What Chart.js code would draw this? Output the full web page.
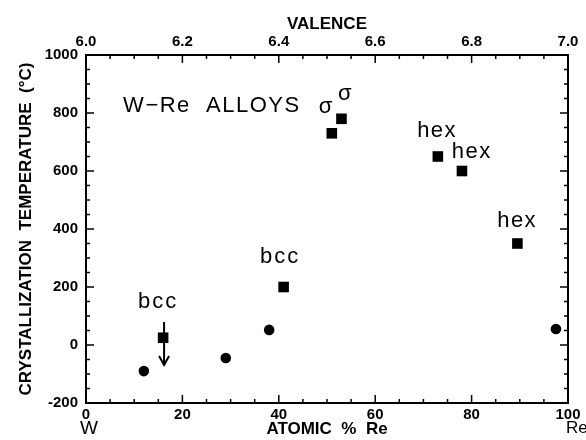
<!DOCTYPE html>
<html>
<head>
<meta charset="utf-8">
<script src="https://cdn.jsdelivr.net/npm/chart.js@4.4.0/dist/chart.umd.min.js"></script>
<style>
html, body { margin: 0; padding: 0; background: #fff; }
</style>
</head>
<body>
<canvas id="myChart" width="586" height="440"></canvas>
<script>
// amorphous W-Re alloys, crystallization temperature vs composition
const circleX = [12, 29, 38, 97.5];
const circleY = [-90, -45, 52, 55];
const squareX = [16, 41, 51, 53, 73, 78, 89.5];
const squareY = [25, 200, 730, 780, 650, 600, 350];

const atomicLabels = [0, 20, 40, 60, 80, 100];
const valenceLabels = [6.0, 6.2, 6.4, 6.6, 6.8, 7.0];
const tempLabels = [-200, 0, 200, 400, 600, 800, 1000];

// text notes placed in data coordinates
const notes = [
    {text: "W\u2212Re  ALLOYS", x: 7.7, y: 803, spacing: 1.5},
    {text: "\u03c3", x: 48.3, y: 800, spacing: 0},
    {text: "\u03c3", x: 52.3, y: 845, spacing: 0},
    {text: "hex", x: 68.7, y: 717, spacing: 1.5},
    {text: "hex", x: 75.9, y: 645, spacing: 1.5},
    {text: "hex", x: 85.3, y: 407, spacing: 1.5},
    {text: "bcc", x: 10.8, y: 128, spacing: 2},
    {text: "bcc", x: 36.1, y: 283, spacing: 2}
];
// upper limit arrow on the first bcc point
const arrowX = 16.2;
const arrowFrom = 79;
const arrowTo = -69;

const FONT = '"Liberation Sans", Arial, Helvetica, sans-serif';

function isIn(list, v){
    return list.some(function(t){ return Math.abs(t - v) < 1e-6; });
}

const frameTicks = {
    id: 'frameTicks',
    afterDraw: function(chart){
        const ctx = chart.ctx;
        const a = chart.chartArea;
        const sx = chart.scales.x, sx2 = chart.scales.x2, sy = chart.scales.y;
        ctx.save();
        ctx.strokeStyle = '#000';
        ctx.lineWidth = 2;
        ctx.strokeRect(a.left, a.top, a.right - a.left, a.bottom - a.top);

        ctx.lineWidth = 1.5;
        ctx.beginPath();
        sx.ticks.forEach(function(t){
            const px = sx.getPixelForValue(t.value);
            const len = isIn(atomicLabels, t.value) ? 8 : 4;
            ctx.moveTo(px, a.bottom); ctx.lineTo(px, a.bottom - len);
        });
        sx2.ticks.forEach(function(t){
            const px = sx2.getPixelForValue(t.value);
            const len = isIn(valenceLabels, t.value) ? 8 : 4;
            ctx.moveTo(px, a.top); ctx.lineTo(px, a.top + len);
        });
        sy.ticks.forEach(function(t){
            const py = sy.getPixelForValue(t.value);
            const len = isIn(tempLabels, t.value) ? 8 : 4;
            ctx.moveTo(a.left, py); ctx.lineTo(a.left + len, py);
            ctx.moveTo(a.right, py); ctx.lineTo(a.right - len, py);
        });
        ctx.stroke();

        // arrow
        const ax = sx.getPixelForValue(arrowX);
        const ay1 = sy.getPixelForValue(arrowFrom);
        const ay2 = sy.getPixelForValue(arrowTo);
        ctx.lineWidth = 2;
        ctx.beginPath();
        ctx.moveTo(ax, ay1); ctx.lineTo(ax, ay2);
        ctx.moveTo(ax - 5, ay2 - 9); ctx.lineTo(ax, ay2); ctx.lineTo(ax + 5, ay2 - 9);
        ctx.stroke();

        // notes
        ctx.fillStyle = '#000';
        ctx.font = '22px ' + FONT;
        ctx.textBaseline = 'alphabetic';
        ctx.textAlign = 'left';
        notes.forEach(function(n){
            ctx.letterSpacing = n.spacing + 'px';
            ctx.fillText(n.text, sx.getPixelForValue(n.x), sy.getPixelForValue(n.y));
        });
        ctx.letterSpacing = '0px';

        // element names under the ends of the composition axis
        ctx.font = '19px ' + FONT;
        ctx.textAlign = 'center';
        ctx.fillText('W', sx.getPixelForValue(0) + 3, 434);
        ctx.font = '17px ' + FONT;
        ctx.textAlign = 'left';
        ctx.fillText('Re', sx.getPixelForValue(100) - 2, 433);
        ctx.restore();
    }
};

const tickFont = {family: FONT, size: 15, weight: 'bold'};
const titleFont = {family: FONT, size: 17, weight: 'bold'};

const ctx = document.getElementById('myChart').getContext('2d');
const myChart = new Chart(ctx, {
    type: 'scatter',
    data: {
        datasets: [{
            label: 'amorphous',
            data: circleX.map(function(x, i){ return {x: x, y: circleY[i]}; }),
            pointStyle: 'circle',
            pointRadius: 5.3,
            backgroundColor: '#000',
            borderColor: '#000',
            borderWidth: 0
        }, {
            label: 'crystalline',
            data: squareX.map(function(x, i){ return {x: x, y: squareY[i]}; }),
            pointStyle: 'rect',
            pointRadius: 7.5,
            backgroundColor: '#000',
            borderColor: '#000',
            borderWidth: 0
        }]
    },
    options: {
        responsive: false,
        animation: false,
        events: [],
        layout: {padding: {left: 0, right: 18, top: 0, bottom: 0}},
        plugins: {legend: {display: false}, tooltip: {enabled: false}},
        scales: {
            x: {
                type: 'linear', position: 'bottom', min: 0, max: 100,
                grid: {display: false, drawTicks: false},
                border: {display: false},
                ticks: {
                    stepSize: 5, autoSkip: false, maxRotation: 0, padding: 3,
                    color: '#000', font: tickFont,
                    callback: function(v){ return isIn(atomicLabels, v) ? String(v) : ''; }
                },
                title: {display: true, text: 'ATOMIC  %  Re', color: '#000', font: titleFont, padding: {top: 0, bottom: 0}},
                afterFit: function(s){ s.height = 37; }
            },
            x2: {
                type: 'linear', position: 'top', min: 6, max: 7,
                grid: {display: false, drawTicks: false},
                border: {display: false},
                ticks: {
                    stepSize: 0.05, autoSkip: false, maxRotation: 0, padding: 4,
                    color: '#000', font: tickFont,
                    callback: function(v){ return isIn(valenceLabels, v) ? v.toFixed(1) : ''; }
                },
                title: {display: true, text: 'VALENCE', color: '#000', font: titleFont, padding: {top: 14, bottom: 0}},
                afterFit: function(s){ s.height = 55; }
            },
            y: {
                type: 'linear', position: 'left', min: -200, max: 1000,
                grid: {display: false, drawTicks: false},
                border: {display: false},
                ticks: {
                    stepSize: 50, autoSkip: false, padding: 8,
                    color: '#000', font: tickFont,
                    callback: function(v){ return isIn(tempLabels, v) ? String(v) : ''; }
                },
                title: {display: true, text: 'CRYSTALLIZATION  TEMPERATURE  (\u00b0C)', color: '#000', font: titleFont, padding: {top: 16, bottom: 0}},
                afterFit: function(s){ s.width = 86; }
            }
        }
    },
    plugins: [frameTicks]
});
</script>
</body>
</html>
